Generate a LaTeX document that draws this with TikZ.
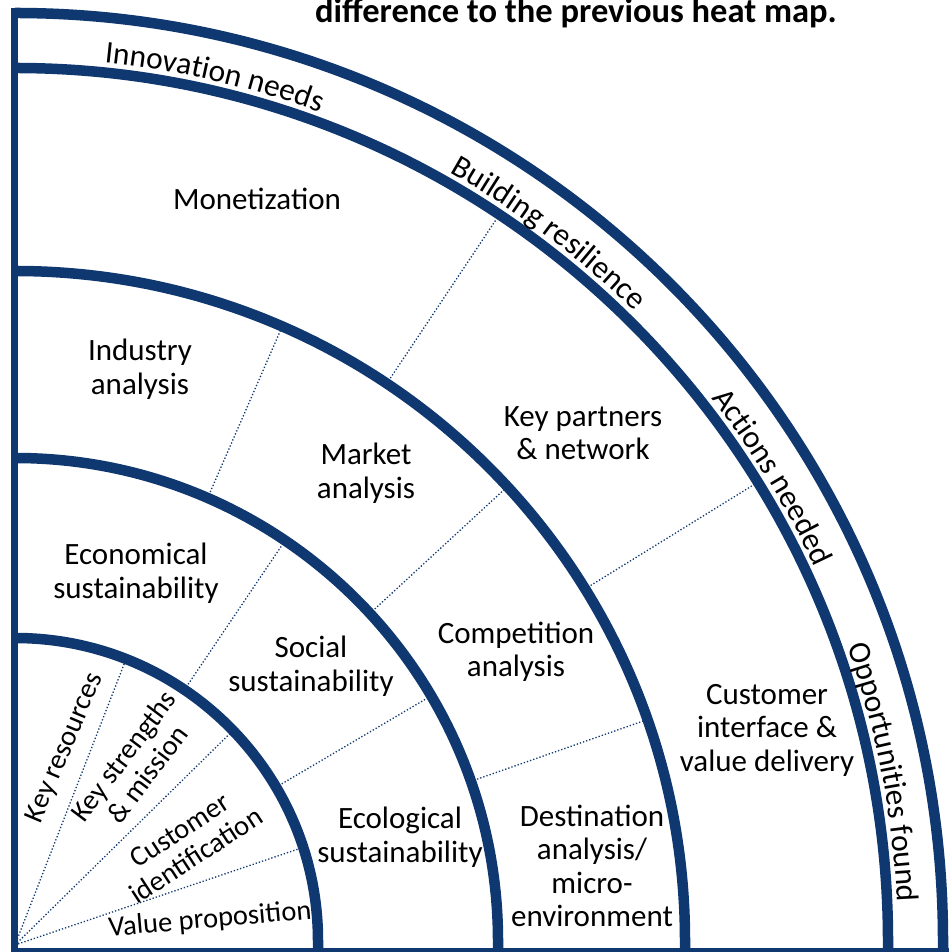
\documentclass[tikz,border=0pt]{standalone}
\usepackage{fontspec}
\setmainfont{Carlito}
\usetikzlibrary{decorations.text}

\definecolor{blunotte}{RGB}{15,55,112}

\begin{document}
\begin{tikzpicture}[x=1pt, y=1pt,
    bordo/.style={draw=blunotte, line width=10.5pt},
    divisore/.style={draw=blunotte, line width=1.3pt, dotted},
    voce/.style={align=center, inner sep=0pt, font=\fontsize{31}{33.5}\selectfont},
    voceint/.style={align=center, inner sep=0pt, font=\fontsize{28.5}{30}\selectfont},
    fascia/.style={decorate, decoration={text along path, text align=center,
        text={|\fontsize{31.5}{33}\selectfont|#1}}}]
    \useasboundingbox (0,0) rectangle (949,952);

    % Titolo (tagliato in alto)
    \node[anchor=base, inner sep=0pt, font=\fontsize{34.5}{36}\bfseries] (titolo) at (576,929)
        {difference to the previous heat map.};

    % Assi
    \draw[blunotte, line width=7pt] (14.5,944) -- (14.5,0);
    \draw[blunotte, line width=8pt] (11,0) -- (949,0);

    \begin{scope}[shift={(15,11)}]
        % Anelli
        \foreach \r in {303,483,670,873,928}
            \draw[bordo] (90:\r) arc[start angle=90, end angle=0, radius=\r] -- ++(0,-20);

        % Separatori punteggiati
        \foreach \a in {68.5,44,18}
            \draw[divisore] (0,-4) -- (\a:303);
        \foreach \a in {56,30.5}
            \draw[divisore] (\a:303) -- (\a:483);
        \foreach \a in {66.5,42.7,19.3}
            \draw[divisore] (\a:483) -- (\a:670);
        \foreach \a in {56.3,31.7}
            \draw[divisore] (\a:670) -- (\a:873);

        % Fascia esterna
        \path[fascia={Innovation needs}] (92:883) arc[start angle=92, end angle=62, radius=883];
        \path[fascia={Building resilience}] (68:883) arc[start angle=68, end angle=38, radius=883];
        \path[fascia={Actions needed}] (46.5:883) arc[start angle=46.5, end angle=16.5, radius=883];
        \path[fascia={Opportunities found}] (26:883) arc[start angle=26, end angle=-4, radius=883];
    \end{scope}

    % Etichette
    \node[voce] (monet) at (257,753) {Monetization};
    \node[voce] (indus) at (140,583) {Industry\\analysis};
    \node[voce] (mercato) at (366,479) {Market\\analysis};
    \node[voce] (partner) at (583,519) {Key partners\\\& network};
    \node[voce] (econ) at (136,379) {Economical\\sustainability};
    \node[voce] (sociale) at (311,286) {Social\\sustainability};
    \node[voce] (compet) at (516,300) {Competition\\analysis};
    \node[voce] (cliente) at (767,222) {Customer\\interface \&\\value delivery};
    \node[voce] (ecolog) at (400,115) {Ecological\\sustainability};
    \node[voce] (destin) at (592,86) {Destination\\analysis/\\micro-\\environment};

    % Settori interni ruotati
    \node[voceint, rotate=67] (risorse) at (65,204) {Key resources};
    \node[voceint, rotate=53] (forze) at (135,187) {Key strengths\\\& mission};
    \node[voceint, rotate=33] (ident) at (188,109) {Customer\\identification};
    \node[voceint, rotate=5] (valore) at (210,32) {Value proposition};
\end{tikzpicture}
\end{document}
